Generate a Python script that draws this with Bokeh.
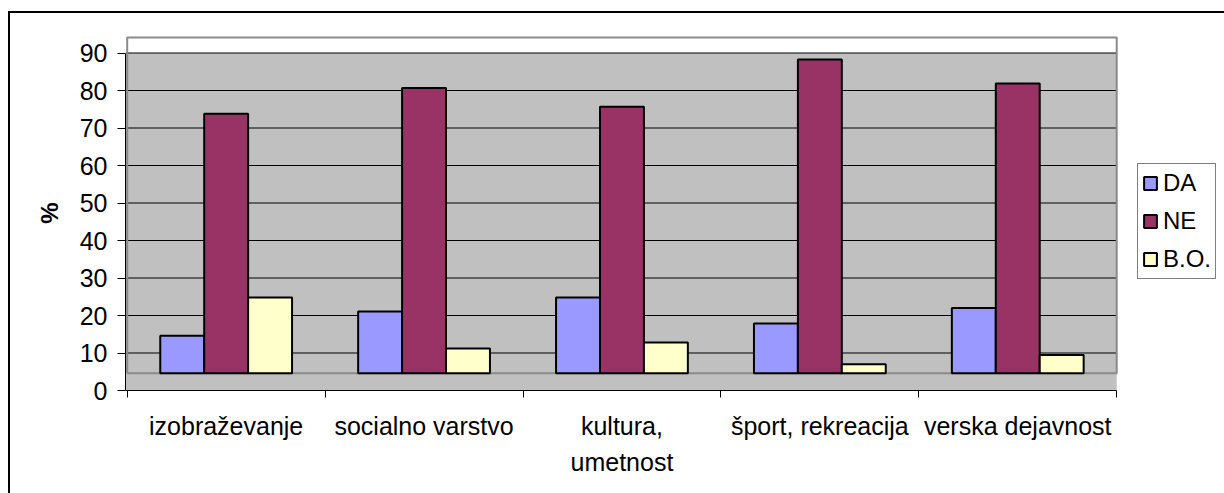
from bokeh.plotting import figure
from bokeh.models import Range1d, FixedTicker, Legend, LegendItem, ColumnDataSource
from bokeh.embed import file_html
from bokeh.resources import INLINE

# ---- data -------------------------------------------------------------
categories = ["izobraževanje", "socialno varstvo", "kultura,\numetnost",
              "šport, rekreacija", "verska dejavnost"]
series = ["DA", "NE", "B.O."]
da = [10.0, 16.5, 20.2, 13.3, 17.4]
ne = [69.2, 76.1, 71.1, 83.7, 77.3]
bo = [20.2, 6.6, 8.2, 2.4, 4.9]
y_ticks = [0, 10, 20, 30, 40, 50, 60, 70, 80, 90]
colors = ["#9999FF", "#993366", "#FFFFCC"]

# ---- style ------------------------------------------------------------
FONT = "Liberation Sans"
DEPTH = 4.6        # 3-D floor depth (axis units) – columns stand on the back wall
WALL_TOP = 94.13
BAR_W = 0.222
X0 = -0.0086

n = len(categories)
p = figure(width=1224, height=493, output_backend="svg", toolbar_location=None,
           title=None,
           x_range=Range1d(X0, 5.5447), y_range=Range1d(0, 94.67),
           min_border_left=125, min_border_right=0, min_border_top=35,
           min_border_bottom=103,
           background_fill_color="white", border_fill_color=None,
           outline_line_color=None)
p.styles = {"box-shadow": "inset 8px 0 0 0 #fff, inset 0 11px 0 0 #fff, "
                          "inset 10px 0 0 0 #000, inset 0 13px 0 0 #000"}

# wall (grey back wall + floor), white top strip, wall border
p.quad(left=[X0], right=[n], bottom=[0], top=[max(y_ticks)],
       fill_color="#C0C0C0", line_color=None)
p.quad(left=[0], right=[n], bottom=[max(y_ticks)], top=[WALL_TOP],
       fill_color="white", line_color=None)
p.segment(x0=[X0] * (len(y_ticks) - 1), x1=[n] * (len(y_ticks) - 1),
          y0=y_ticks[1:], y1=y_ticks[1:], line_color="black", line_width=1)
p.line(x=[0, 0, n, n, 0], y=[DEPTH, WALL_TOP, WALL_TOP, DEPTH, DEPTH],
       line_color="#8a8a8a", line_width=2)

p.xgrid.grid_line_color = None
p.ygrid.grid_line_color = None

# bars
renderers = []
for k, (name, vals, col) in enumerate(zip(series, [da, ne, bo], colors)):
    src = ColumnDataSource(dict(
        x=[i + 0.5 + (k - 1) * BAR_W for i in range(n)],
        bottom=[DEPTH] * n,
        top=[DEPTH + v for v in vals],
    ))
    r = p.vbar(x="x", width=BAR_W, bottom="bottom", top="top", source=src,
               fill_color=col, line_color="black", line_width=2)
    renderers.append(r)

# axes
xa = p.xaxis[0]
xa.ticker = FixedTicker(ticks=[i + 0.5 for i in range(n)],
                        minor_ticks=list(range(n + 1)))
xa.bounds = (X0, n)
xa.major_label_overrides = {i + 0.5: c for i, c in enumerate(categories)}
xa.major_tick_out = 0
xa.major_tick_in = 0
xa.minor_tick_out = 7
xa.minor_tick_in = 0
xa.minor_tick_line_color = "black"
xa.axis_line_color = "black"
xa.major_label_text_font = FONT
xa.major_label_text_font_size = "25px"
xa.major_label_text_color = "black"
xa.major_label_text_line_height = 1.3
xa.major_label_standoff = 14

ya = p.yaxis[0]
ya.ticker = FixedTicker(ticks=y_ticks)
ya.bounds = (-1.9, max(y_ticks))
ya.major_tick_out = 8
ya.major_tick_in = 0
ya.minor_tick_line_color = None
ya.axis_line_color = "black"
ya.major_tick_line_color = "black"
ya.major_label_text_font = FONT
ya.major_label_text_font_size = "25px"
ya.major_label_text_color = "black"
ya.major_label_standoff = 10
ya.axis_label = "%"
ya.axis_label_text_font = FONT
ya.axis_label_text_font_size = "24px"
ya.axis_label_text_font_style = "bold"
ya.axis_label_text_color = "black"
ya.axis_label_standoff = 14

legend = Legend(items=[LegendItem(label=s, renderers=[r]) for s, r in zip(series, renderers)],
                location=(1012, 111), orientation="vertical",
                glyph_width=16, glyph_height=16, label_standoff=5,
                label_height=30, spacing=8, padding=4, margin=0,
                border_line_color="black", border_line_width=1,
                background_fill_color="white", background_fill_alpha=1,
                label_text_font=FONT, label_text_font_size="24px",
                label_text_color="black")
p.add_layout(legend)

open("out.html", "w").write(file_html(p, INLINE))
